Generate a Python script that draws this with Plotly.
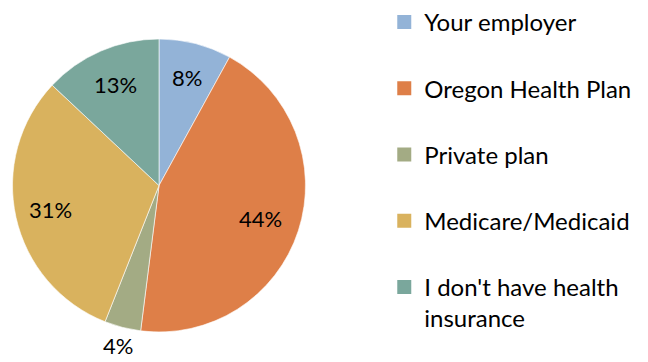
import math
import plotly.graph_objects as go

categories = ["Your employer", "Oregon Health Plan", "Private plan", "Medicare/Medicaid", "I don't have health insurance"]
legend_labels = ["Your employer", "Oregon Health Plan", "Private plan", "Medicare/Medicaid", "I don't have health<br>insurance"]
values = [8, 44, 4, 31, 13]
label_radius = [0.76, 0.73, 1.13, 0.76, 0.75]   # label distance, as fraction of pie radius
colors = ["#93B3D7", "#DE7F48", "#A3AB84", "#D9B25E", "#7AA79C"]

FONT = "Lato"
W, H = 648, 362
CX, CY, R = 159, 185.5, 146.5      # pie centre / radius in pixels

fig = go.Figure()
fig.add_trace(go.Pie(
    labels=categories,
    values=values,
    sort=False,
    direction="clockwise",
    rotation=0,
    marker=dict(colors=colors, line=dict(color="white", width=0.6)),
    textinfo="none",
    showlegend=False,
    hoverinfo="label+percent",
    domain=dict(x=[(CX - R) / W, (CX + R) / W],
                y=[(H - CY - R) / H, (H - CY + R) / H]),
))

# percentage labels placed along each slice's mid-angle
total = sum(values)
cum = 0
for v, lr in zip(values, label_radius):
    mid = (cum + v / 2) / total * 2 * math.pi
    cum += v
    px = CX + math.sin(mid) * R * lr
    py = CY - math.cos(mid) * R * lr
    fig.add_annotation(x=px / W, y=1 - py / H, xref="paper", yref="paper",
                       xanchor="center", yanchor="middle",
                       text="%d%%" % v, showarrow=False,
                       font=dict(family=FONT, size=22, color="black"))

for i, (lab, col) in enumerate(zip(legend_labels, colors)):
    fig.add_trace(go.Scatter(
        x=[None], y=[None], mode="markers", name=lab,
        marker=dict(symbol="square", size=14, color=col),
        legendgroup="g%d" % i, showlegend=True,
    ))

fig.update_layout(
    width=W, height=H,
    margin=dict(l=0, r=0, t=0, b=0, autoexpand=False),
    paper_bgcolor="white", plot_bgcolor="white",
    xaxis=dict(visible=False), yaxis=dict(visible=False),
    legend=dict(
        x=0.593, y=1.0, xanchor="left", yanchor="top",
        font=dict(family=FONT, size=24, color="black"),
        tracegroupgap=32, valign="top",
        bgcolor="rgba(0,0,0,0)",
    ),
    font=dict(family=FONT),
)

fig.write_html("out.html", config={"displayModeBar": False},
               post_script="document.body.style.margin='0px';")
